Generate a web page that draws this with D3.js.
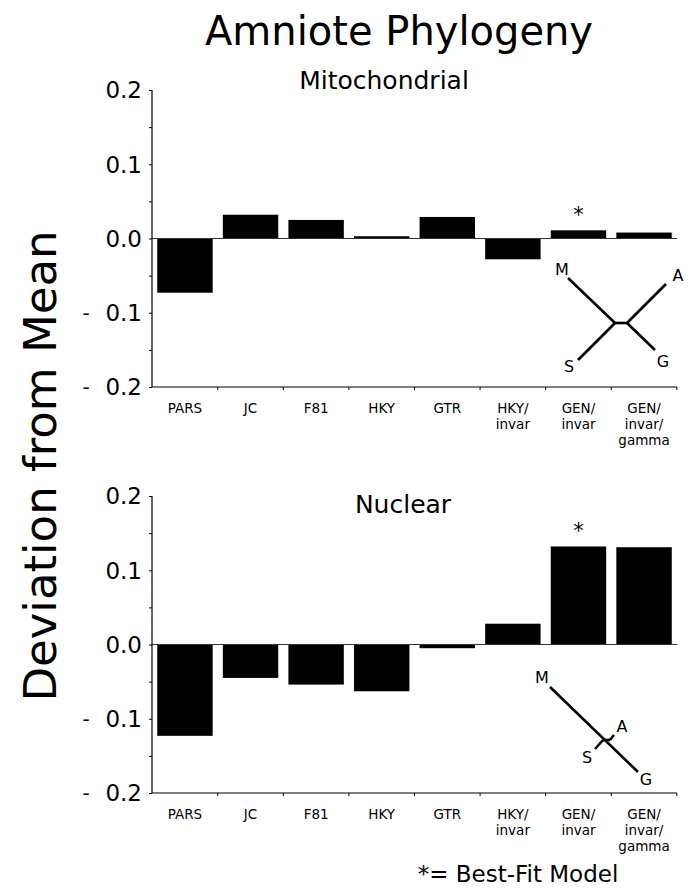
<!DOCTYPE html>
<html>
<head>
<meta charset="utf-8">
<script src="https://cdn.jsdelivr.net/npm/d3@7"></script>
<style>
body { margin: 0; background: #fff; }
text { font-family: "DejaVu Sans", Verdana, sans-serif; fill: #000; }
</style>
</head>
<body>
<script>
let w = 696;
let h = 889;

// data
let models = [["PARS"], ["JC"], ["F81"], ["HKY"], ["GTR"], ["HKY/", "invar"], ["GEN/", "invar"], ["GEN/", "invar/", "gamma"]];
let modelKeys = ["PARS", "JC", "F81", "HKY", "GTR", "HKY/invar", "GEN/invar", "GEN/invar/gamma"];
let mitoValues = [-0.073, 0.032, 0.025, 0.003, 0.029, -0.028, 0.011, 0.008];
let nuclearValues = [-0.123, -0.045, -0.054, -0.063, -0.005, 0.028, 0.132, 0.131];
let bestFit = "GEN/invar";
let majorTicks = [-0.2, -0.1, 0.0, 0.1, 0.2];
let minorTicks = [-0.2, -0.15, -0.1, -0.05, 0, 0.05, 0.1, 0.15, 0.2];

// little unrooted trees (M, A, S, G), in inset units
let mitoTreeEdges = [[[8, 8], [55, 53]], [[55, 53], [67, 53]], [[67, 53], [106, 14]], [[55, 53], [18, 90]], [[67, 53], [95, 80]]];
let mitoTreeLabels = [["M", 2, 5], ["A", 118, 11], ["S", 9, 102], ["G", 103, 97]];
let nucTreeEdges = [[[20, 17], [108, 102]], [[73, 70], [80, 70]], [[80, 70], [84, 65]], [[73, 70], [65, 79]]];
let nucTreeLabels = [["M", 12, 13], ["A", 92, 62], ["S", 57, 93], ["G", 116, 115]];

let svg = d3.select("body").append("svg")
  .attr("width", w)
  .attr("height", h);

let xScale = d3.scaleBand()
  .domain(modelKeys)
  .range([152, 677])
  .paddingInner(0.155)
  .paddingOuter(0.08);

svg.append("text")
  .attr("x", 399)
  .attr("y", 45)
  .attr("text-anchor", "middle")
  .style("font-size", "40px")
  .text("Amniote Phylogeny");

svg.append("text")
  .attr("transform", "translate(56,466) rotate(-90)")
  .attr("text-anchor", "middle")
  .style("font-size", "45px")
  .text("Deviation from Mean");

svg.append("text")
  .attr("x", 518)
  .attr("y", 882)
  .attr("text-anchor", "middle")
  .style("font-size", "23px")
  .text("*= Best-Fit Model");

function panel(values, title, titleX, titleY, yTop, yBot, treeEdges, treeLabels, treeX, treeY) {
  let yScale = d3.scaleLinear()
    .domain([-0.2, 0.2])
    .range([yBot, yTop]);

  let g = svg.append("g");

  g.append("text")
    .attr("x", titleX)
    .attr("y", titleY)
    .attr("text-anchor", "middle")
    .style("font-size", "25px")
    .text(title);

  // bars
  g.selectAll(".bar")
    .data(values)
    .enter()
    .append("rect")
    .attr("class", "bar")
    .attr("x", (d, i) => xScale(modelKeys[i]))
    .attr("width", xScale.bandwidth())
    .attr("y", d => yScale(Math.max(0, d)))
    .attr("height", d => Math.abs(yScale(d) - yScale(0)))
    .attr("fill", "#000");

  // zero line
  g.append("line")
    .attr("x1", 152).attr("x2", 677)
    .attr("y1", yScale(0)).attr("y2", yScale(0))
    .attr("stroke", "#333").attr("stroke-width", 1.2);

  // y axis: minor ticks, labels drawn by hand to keep the spaced minus
  let yAxis = d3.axisLeft(yScale)
    .tickValues(minorTicks)
    .tickSize(3)
    .tickFormat("");
  let ya = g.append("g")
    .attr("transform", "translate(152,0)")
    .call(yAxis);
  ya.select(".domain").attr("stroke", "#000").attr("stroke-width", 1.2).attr("d", "M0," + yTop + "V" + yBot);
  ya.selectAll(".tick line").attr("stroke", "#000");

  g.selectAll(".ylab")
    .data(majorTicks)
    .enter()
    .append("text")
    .attr("class", "ylab")
    .attr("x", 142)
    .attr("y", d => yScale(d))
    .attr("dy", "0.36em")
    .attr("text-anchor", "end")
    .style("font-size", "23px")
    .text(d => d3.format(".1f")(Math.abs(d)));

  g.selectAll(".yneg")
    .data(majorTicks.filter(d => d < 0))
    .enter()
    .append("text")
    .attr("class", "yneg")
    .attr("x", 86)
    .attr("y", d => yScale(d))
    .attr("dy", "0.36em")
    .attr("text-anchor", "middle")
    .style("font-size", "20px")
    .text("-");

  // x axis
  let xAxis = d3.axisBottom(xScale).tickSize(0).tickFormat("");
  let xa = g.append("g")
    .attr("transform", "translate(0," + yBot + ")")
    .call(xAxis);
  xa.select(".domain").attr("stroke", "#000").attr("stroke-width", 1.2).attr("d", "M152,0H677");

  let step = xScale.step();
  g.selectAll(".xtick")
    .data(modelKeys)
    .enter()
    .append("line")
    .attr("class", "xtick")
    .attr("x1", d => xScale(d) + xScale.bandwidth() + (step - xScale.bandwidth()) / 2)
    .attr("x2", d => xScale(d) + xScale.bandwidth() + (step - xScale.bandwidth()) / 2)
    .attr("y1", yBot).attr("y2", yBot + 3)
    .attr("stroke", "#000");

  // category labels, one text per line so the rows do not collide
  let lines = [];
  models.forEach((m, i) => m.forEach((s, j) => lines.push({ key: modelKeys[i], s: s, j: j })));
  g.selectAll(".xlab")
    .data(lines)
    .enter()
    .append("text")
    .attr("class", "xlab")
    .attr("x", d => xScale(d.key) + xScale.bandwidth() / 2)
    .attr("y", d => yBot + 26 + d.j * 16)
    .attr("text-anchor", "middle")
    .style("font-size", "13.5px")
    .text(d => d.s);

  // best fit star
  let bi = modelKeys.indexOf(bestFit);
  g.append("text")
    .attr("x", xScale(bestFit) + xScale.bandwidth() / 2)
    .attr("y", yScale(Math.max(0, values[bi])) - 8)
    .attr("text-anchor", "middle")
    .style("font-size", "21px")
    .text("*");

  // inset tree
  let tx = d3.scaleLinear().domain([0, 100]).range([treeX, treeX + 100]);
  let ty = d3.scaleLinear().domain([0, 100]).range([treeY, treeY + 100]);
  let tree = g.append("g");
  tree.selectAll("line")
    .data(treeEdges)
    .enter()
    .append("line")
    .attr("x1", d => tx(d[0][0])).attr("y1", d => ty(d[0][1]))
    .attr("x2", d => tx(d[1][0])).attr("y2", d => ty(d[1][1]))
    .attr("stroke", "#000")
    .attr("stroke-width", 2.6);
  tree.selectAll("text")
    .data(treeLabels)
    .enter()
    .append("text")
    .attr("x", d => tx(d[1]))
    .attr("y", d => ty(d[2]))
    .attr("text-anchor", "middle")
    .style("font-size", "16px")
    .text(d => d[0]);
}

panel(mitoValues, "Mitochondrial", 384, 89, 90, 387, mitoTreeEdges, mitoTreeLabels, 560, 270);
panel(nuclearValues, "Nuclear", 403, 513, 496, 793, nucTreeEdges, nucTreeLabels, 530, 670);
</script>
</body>
</html>
